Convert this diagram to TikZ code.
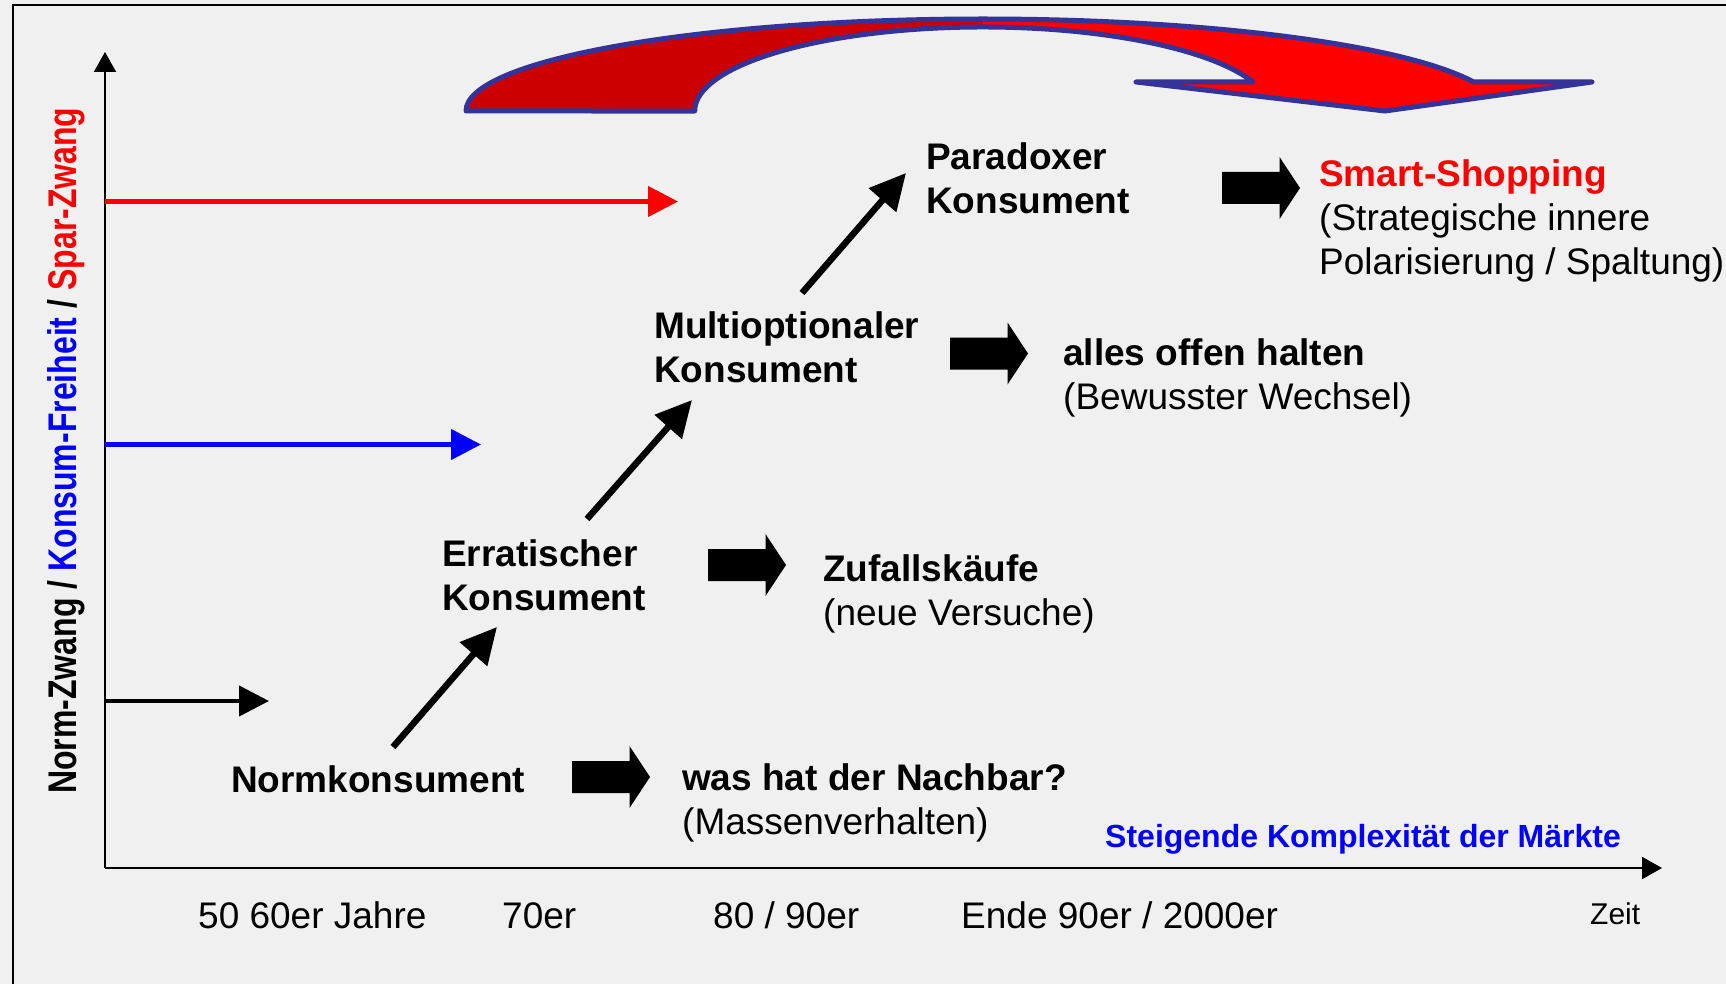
\documentclass[tikz,border=0pt]{standalone}
\usepackage{fontspec}
\setmainfont{Liberation Sans}
\usepackage{graphicx}
\usepackage{xcolor}
\usetikzlibrary{arrows.meta,positioning}

\definecolor{bgcol}{HTML}{F0F0F0}
\definecolor{darkred}{HTML}{CC0000}
\definecolor{rimblue}{HTML}{333399}

\tikzset{
    lbl/.style={anchor=base west, inner sep=0pt, align=left, font=\fontsize{37}{44}\selectfont}, % base = last line
    axis/.style={line width=2pt, -{Triangle[length=20pt,width=22pt]}},
    level/.style={line width=4.5pt, -{Triangle[length=30pt,width=30pt]}},
    stepup/.style={line width=6.5pt, -{Triangle[length=36pt,width=35pt]}},
}

% fat black arrow, #1 = left end of the shaft
\newcommand{\fatarrow}[1]{\fill (#1) ++(0,-16) -- ++(57.5,0) -- ++(0,-15) -- ++(20.5,31) -- ++(-20.5,31) -- ++(0,-15) -- ++(-57.5,0) -- cycle;}

\begin{document}
\begin{tikzpicture}[x=1pt, y=-1pt]
    \fill[bgcol] (0,0) rectangle (1726,984);
    \useasboundingbox (0,0) rectangle (1726,984);
    \draw[line width=2.5pt] (13,984) -- (13,5) -- (1726,5); % frame

    % big curved arrow on top
    \fill[darkred] (466,111) arc[start angle=180, end angle=270, x radius=517, y radius=92] -- (983,27) arc[start angle=270, end angle=180, x radius=288, y radius=84] -- cycle;
    \fill[red] (983,19) arc[start angle=270, end angle=341.6, x radius=517, y radius=92] -- (1592,82) -- (1385,111) -- (1136,82) -- (1253,82) arc[start angle=339.8, end angle=270, x radius=288, y radius=84] -- cycle;
    \draw[rimblue, line width=5pt, line join=round] (466,111) arc[start angle=180, end angle=341.6, x radius=517, y radius=92] -- (1592,82) -- (1385,111) -- (1136,82) -- (1253,82) arc[start angle=339.8, end angle=180, x radius=288, y radius=84] -- cycle;

    % axes
    \coordinate (O) at (105,868); % origin
    \coordinate (ytop) at (105,52);
    \coordinate (xend) at (1662,868);
    \draw[axis] (O) -- (ytop);
    \draw[axis] (O) -- (xend);
    \node[rotate=90, anchor=base west, inner sep=0pt, font=\bfseries\fontsize{40}{48}\selectfont] (ylab) at (76,794) {\scalebox{0.8}[1]{Norm-Zwang / \textcolor{blue}{Konsum-Freiheit} / \textcolor{red}{Spar-Zwang}}};
    \node[lbl, font=\bfseries\fontsize{32}{38}\selectfont, text=blue] (kompl) at (1105,847) {Steigende Komplexität der Märkte};
    \node[lbl, font=\fontsize{30}{36}\selectfont] (zeit) at (1590,924) {Zeit};

    % decades
    \node[lbl] (d50) at (198,928) {50 60er Jahre};
    \node[lbl] (d70) at (502,928) {70er};
    \node[lbl] (d80) at (713,928) {80 / 90er};
    \node[lbl] (d90) at (961,928) {Ende 90er / 2000er};

    % level arrows from the y axis
    \coordinate (lvlS) at (105,201.5);
    \coordinate (lvlK) at (105,444.5);
    \coordinate (lvlN) at (105,701);
    \draw[level, red] (lvlS) -- (678,201.5);
    \draw[level, blue] (lvlK) -- (481,444.5);
    \draw[level] (lvlN) -- (269,701);

    % consumer types
    \node[lbl, font=\bfseries\fontsize{37}{44}\selectfont] (norm) at (231,792) {Normkonsument};
    \node[lbl, font=\bfseries\fontsize{37}{44}\selectfont] (err) at (442,610) {Erratischer\\Konsument};
    \node[lbl, font=\bfseries\fontsize{37}{44}\selectfont] (multi) at (654,382) {Multioptionaler\\Konsument};
    \node[lbl, font=\bfseries\fontsize{37}{44}\selectfont] (para) at (926,214) {Paradoxer\\Konsument};

    % steps between the types
    \coordinate (s1a) at (393,747); \coordinate (s1b) at (497,627);
    \coordinate (s2a) at (587,519); \coordinate (s2b) at (692,400);
    \coordinate (s3a) at (802,293); \coordinate (s3b) at (906,173);
    \draw[stepup] (s1a) -- (s1b);
    \draw[stepup] (s2a) -- (s2b);
    \draw[stepup] (s3a) -- (s3b);

    % behaviour
    \coordinate (f1) at (572,777); \fatarrow{f1}
    \coordinate (f2) at (708,565); \fatarrow{f2}
    \coordinate (f3) at (950,353.5); \fatarrow{f3}
    \coordinate (f4) at (1222,188); \fatarrow{f4}
    \node[lbl] (was) at (682,834) {\textbf{was hat der Nachbar?}\\(Massenverhalten)};
    \node[lbl] (zuf) at (823,625) {\textbf{Zufallskäufe}\\(neue Versuche)};
    \node[lbl] (alles) at (1063,409.5) {\textbf{alles offen halten}\\(Bewusster Wechsel)};
    \node[lbl] (smart) at (1319,275) {\textbf{\textcolor{red}{Smart-Shopping}}\\(Strategische innere\\Polarisierung / Spaltung)};
\end{tikzpicture}
\end{document}
